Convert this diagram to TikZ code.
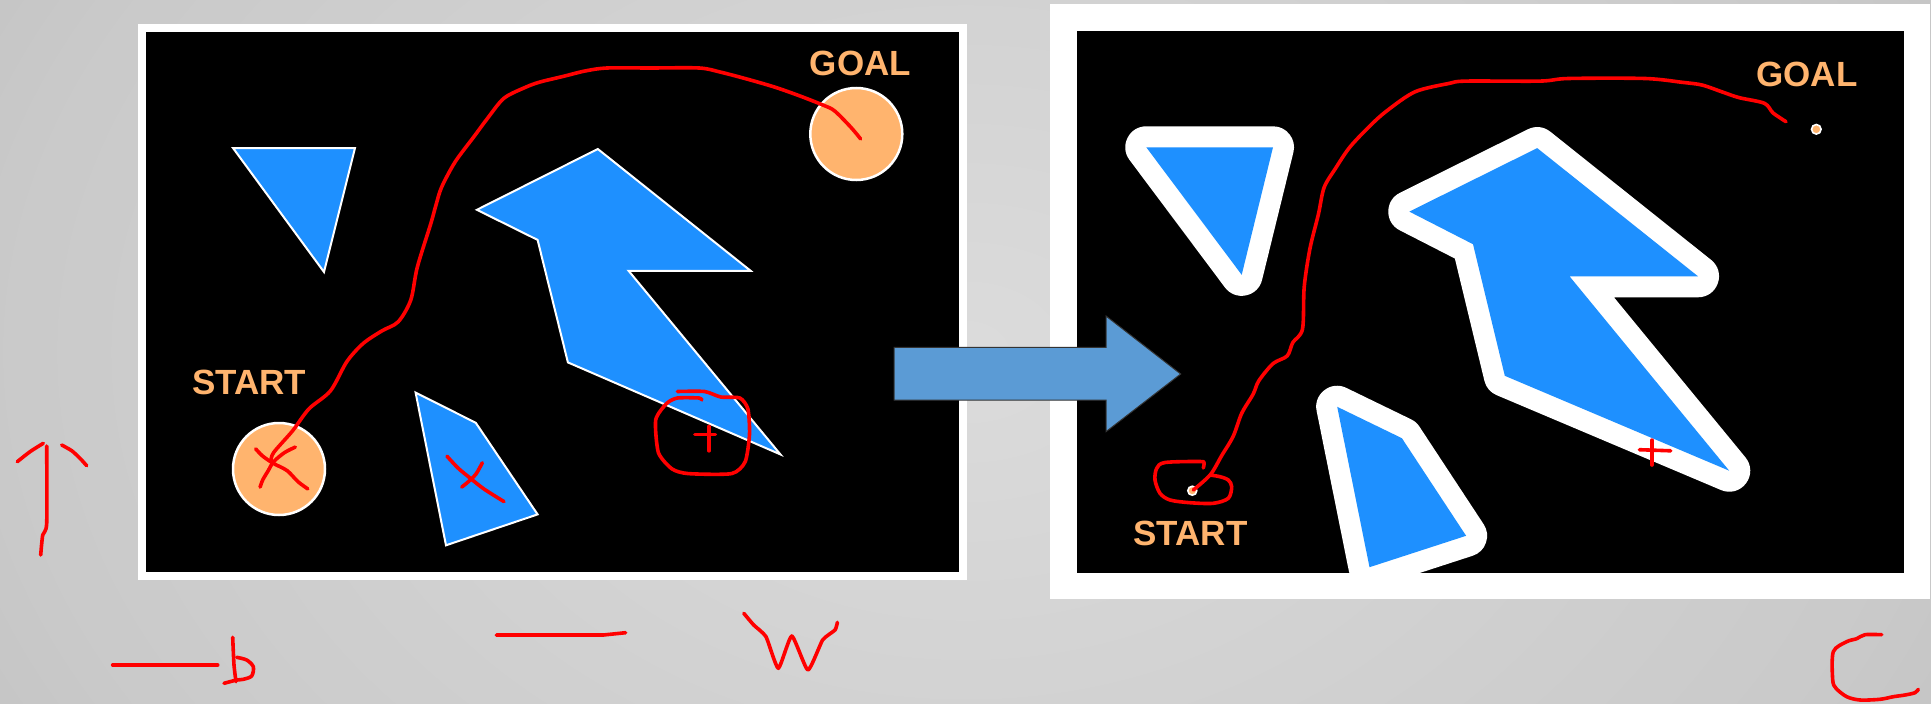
\documentclass[tikz,border=0pt]{standalone}
\usepackage{fontspec}
\setmainfont{Liberation Sans}
\definecolor{obstacle}{RGB}{30,144,255}
\definecolor{marker}{RGB}{255,180,110}
\definecolor{flow}{RGB}{91,155,213}
\definecolor{ink}{RGB}{255,0,0}
\definecolor{bgA}{gray}{0.86}
\definecolor{bgB}{gray}{0.79}
\definecolor{bgC}{gray}{0.67}
\pgfdeclareradialshading{backdrop}{\pgfpoint{0bp}{0bp}}{color(0bp)=(bgA); color(25bp)=(bgB); color(50bp)=(bgC); color(100bp)=(bgC)}
\tikzset{
  mapword/.style={text=marker, font=\fontsize{35}{35}\selectfont\bfseries, inner sep=0pt, anchor=base},
  obst/.style={fill=obstacle, draw=white, line width=2pt, line join=miter},
  haloed/.style={fill=obstacle, preaction={draw=white, fill=white, line width=42pt, line join=round}},
  spot/.style={fill=marker, draw=white, line width=2.5pt},
  dot/.style={fill=marker, draw=white, line width=1.6pt},
  scribble/.style={draw=ink, line width=3.6pt, line cap=round, line join=round},
}
\begin{document}
\begin{tikzpicture}[x=1pt, y=-1pt]
\useasboundingbox (0,0) rectangle (1931,704);
% backdrop
\begin{scope}
  \clip (0,0) rectangle (1931,704);
  \shade[shading=backdrop] (0,-352) rectangle (1931,1056);
\end{scope}

% ---------- original workspace ----------
\fill[white] (138,24) rectangle (967,580);
\fill[black] (146,32) rectangle (959,571.5);
\filldraw[obst] (233,148) -- (355,148) -- (324,272) -- cycle;
\filldraw[obst] (597.8,149) -- (750.6,270.8) -- (628.6,270.8) -- (780.4,454.4)
  -- (567.9,362.4) -- (537.6,239.9) -- (476.9,209.8) -- cycle;
\filldraw[obst] (415.6,392.6) -- (475.8,422.8) -- (537.6,514.4) -- (446,545.3) -- cycle;
\filldraw[spot] (279,469) circle[radius=46pt];
\filldraw[spot] (856.3,134) circle[radius=46pt];
\node[mapword] (goalA) at (860.5,75.3) {GOAL};
\node[mapword] (startA) at (249.3,394.2) {START};

% ---------- configuration space ----------
\fill[white] (1050,3.7) rectangle (1930,599.3);
\fill[black] (1077,30.5) rectangle (1903.5,572.5);
\fill[haloed] (1146.3,147.3) -- (1273,147.3) -- (1241.7,274.8) -- cycle;
\fill[haloed] (1537.2,148.1) -- (1698,276.3) -- (1569.5,276.3) -- (1729.2,470.7)
  -- (1504.8,375.8) -- (1473,244.2) -- (1409.3,211.6) -- cycle;
\fill[haloed] (1337.2,406.8) -- (1401.9,438.2) -- (1466.1,535.8) -- (1369.5,567.2) -- cycle;
\filldraw[dot] (1816.3,129.3) circle[radius=4.8pt];
\filldraw[dot] (1192.3,490.7) circle[radius=4.5pt];
\node[mapword] (goalB) at (1807,86.5) {GOAL};
\node[mapword] (startB) at (1190.5,545.3) {START};

% transition arrow
\filldraw[fill=flow, draw=black!80, line width=1pt]
  (894,347.3) -- (1106,347.3) -- (1106,316) -- (1180.7,374) -- (1106,431.7)
  -- (1106,400) -- (894,400) -- cycle;

% ---------- hand-drawn marks ----------
% path in the workspace
\draw[scribble] plot[smooth, tension=0.5] coordinates {
  (860.6,138.9) (850.8,127.2) (834.6,110.9) (823.8,105.4) (800,96) (775,87.2)
  (747.9,79.3) (720,72) (699.1,68) (650,68) (607,68) (585,71) (563.6,76.3)
  (540,82) (525.7,87.2) (504,98.2) (487.7,118.1) (474.2,136.3) (455.2,161.8)
  (441.6,187.2) (436,205) (430.8,223.6) (417.3,267.2) (410.8,299.9) (398.3,321.7)
  (382,330.8) (363.1,343.5) (346.8,361.7) (330.5,390.8) (308.9,408.9)
  (292.6,430.8) (273.6,452.6) (270.9,461.7)};
% crosses
\draw[scribble] plot[smooth, tension=0.5] coordinates {
  (255.7,448.9) (262.8,456.2) (273.6,463.5) (287.2,470.7) (298,481.7) (307.8,488.9)};
\draw[scribble] plot[smooth, tension=0.5] coordinates {
  (295.3,447.1) (284.5,452.6) (273.6,461.7) (268.2,470.7) (262.8,479.8) (260.1,487.1)};
\draw[scribble] plot[smooth, tension=0.5] coordinates {
  (447,456.2) (458,468) (470,478) (484,489) (504,501.6)};
\draw[scribble] plot[smooth, tension=0.5] coordinates {
  (482.3,462.8) (476,474) (468,482) (461.7,487.1)};
% loop around the corner
\draw[scribble] plot[smooth, tension=0.4] coordinates {
  (677.4,391.5) (704.5,391.5) (720.8,397) (739.8,398) (747.9,408.9) (749.5,434.4)
  (745.2,461.7) (731.6,473.6) (688.3,473.6) (672,468.9) (658.4,452.6)
  (655.7,419.9) (666.6,403.5) (677.4,398) (699.1,398) (701.8,400)};
\draw[scribble] (708.9,426.4) -- (708.9,450.8);
\draw[scribble] (694.8,434.4) -- (715.4,434.4);

% path in the configuration space
\draw[scribble] plot[smooth, tension=0.5] coordinates {
  (1786,121.7) (1773,112.9) (1764.4,103.3) (1738.9,97.6) (1721.8,91.8)
  (1701.9,85) (1682,82.3) (1645,78.5) (1568.4,78.5) (1540,81.1) (1466.1,81.1)
  (1449.1,83.4) (1415,91.8) (1386.6,111) (1369.5,126.3) (1349.7,147.3)
  (1335.5,168.4) (1324.1,187.5) (1318.4,214.3) (1309.9,248.8) (1304.2,287)
  (1302.5,329.1) (1292.8,342.5) (1287.2,355.9) (1273,363.6) (1258.8,380.8)
  (1253.1,394.2) (1241.7,413.3) (1233.2,436.3) (1221.8,455.4) (1210.5,474.5)
  (1193.3,490)};
\draw[scribble] plot[smooth, tension=0.5] coordinates {
  (1203.3,468) (1204,463) (1200,461.5) (1165,462.5) (1156.7,468.3) (1155,480)
  (1160,493.3) (1170,500) (1190,502.7) (1213.3,503.3) (1228.3,498.3)
  (1231.7,486.7) (1228.3,480) (1220,476.7) (1210,475)};
\draw[scribble] (1651.9,440.1) -- (1651.9,465);
\draw[scribble] (1639.4,449.7) -- (1670.7,450.8);

% axis arrow and letters below
\draw[scribble] plot[smooth, tension=0.4] coordinates {
  (46.7,446) (46.7,523.3) (42.7,535) (40.7,555)};
\draw[scribble] plot[smooth, tension=0.4] coordinates {
  (43.3,443.3) (30,451.7) (17.3,461.7)};
\draw[scribble] plot[smooth, tension=0.4] coordinates {
  (61.7,445) (71.7,450.7) (80,458.3) (86.7,465.7)};
\draw[scribble] (112.7,665) -- (217.7,665);
\draw[scribble] plot[smooth, tension=0.4] coordinates {
  (232.7,637.3) (234,665) (236,681.7)};
\draw[scribble] plot[smooth, tension=0.5] coordinates {
  (236.7,657.3) (246.7,660) (253.3,666.7) (251.7,676) (243.3,679.3)
  (236.7,680) (230,681.7) (224,683.3)};
\draw[scribble] (496.3,635) -- (603.4,635) -- (625.6,632.7);
\draw[scribble] plot[smooth, tension=0.3] coordinates {
  (743.8,613.3) (753.7,625) (766,636.7) (778.3,668.3) (791.8,636)
  (807.9,670) (822.6,640) (835,630) (837.4,622.3)};
\draw[scribble] plot[smooth, tension=0.5] coordinates {
  (1881.7,634.7) (1865,634.7) (1856.7,638.7) (1846.7,641.7) (1833.3,651.7)
  (1832.7,680) (1836,688.3) (1846.7,696.7) (1860,700) (1880,699.3)
  (1893.3,696.7) (1905,695) (1915,692.7) (1918.3,689.3)};
\end{tikzpicture}
\end{document}
